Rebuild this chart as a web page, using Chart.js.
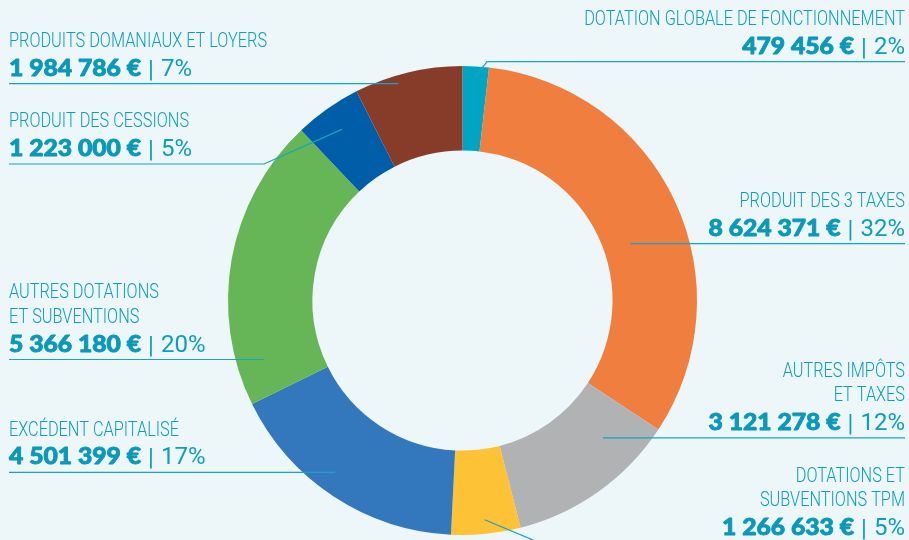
<!DOCTYPE html>
<html lang="fr">
<head>
<meta charset="utf-8">
<script src="https://cdn.jsdelivr.net/npm/chart.js@4.4.1/dist/chart.umd.min.js"></script>
<style>
  html, body { margin: 0; padding: 0; background: #edf6f8; }
  #wrap { width: 909px; height: 540px; position: relative; }
</style>
</head>
<body>
<div id="wrap"><canvas id="recettes"></canvas></div>
<script>
// slices, clockwise from the top
const categories = [
  ['DOTATION GLOBALE DE FONCTIONNEMENT'],
  ['PRODUIT DES 3 TAXES'],
  ['AUTRES IMPÔTS', 'ET TAXES'],
  ['DOTATIONS ET', 'SUBVENTIONS TPM'],
  ['EXCÉDENT CAPITALISÉ'],
  ['AUTRES DOTATIONS', 'ET SUBVENTIONS'],
  ['PRODUIT DES CESSIONS'],
  ['PRODUITS DOMANIAUX ET LOYERS']
];
const amounts = [479456, 8624371, 3121278, 1266633, 4501399, 5366180, 1223000, 1984786];
const colors = ['#00a5c4', '#f07e3f', '#b1b2b3', '#fdc236', '#3377bc', '#66b557', '#005da8', '#873c2a'];

// where each callout sits (text block + leader line)
const callouts = [
  {align: 'right', x: 905, y: 25,    mode: 'elbow', r: 0.955, elbowX: 487},
  {align: 'right', x: 905, y: 207,   mode: 'flat',  r: 0.756},
  {align: 'right', x: 905, y: 376.7, mode: 'flat',  r: 0.838},
  {align: 'right', x: 905, y: 481.7, mode: 'elbow', r: 0.94,  elbowX: 540},
  {align: 'left',  x: 9,   y: 435.7, mode: 'flat',  r: 0.912},
  {align: 'left',  x: 9,   y: 298.3, mode: 'flat',  r: 0.883},
  {align: 'left',  x: 9,   y: 127.3, mode: 'elbow', r: 0.893, elbowX: 264},
  {align: 'left',  x: 9,   y: 47,    mode: 'flat',  r: 0.964}
];

const TEXT = '#0e9dbe';
const NUM_COLOR = '#0b98b9';
const LINE = '#17a3c4';
const NAME_FONT = '300 20px "Roboto", sans-serif';
const NAME_SX = 0.815;
const PCT_FONT = '400 24px "Roboto", sans-serif';
const PCT_SX = 1.0;
const NUM_FONT = '900 23.5px "Lato", sans-serif';
const NUM_SX = 1.05;
const PIPE_GAP = 7;

function euros(v) {
  return String(v).replace(/\B(?=(\d{3})+(?!\d))/g, ' ') + ' €';
}

function textWidth(ctx, t, font, sx) {
  ctx.font = font;
  return ctx.measureText(t).width * sx;
}

// draws text squeezed/stretched horizontally, left edge at x
function drawScaled(ctx, t, x, y, font, sx, stroke) {
  ctx.save();
  ctx.font = font;
  ctx.textAlign = 'left';
  ctx.translate(x, y);
  ctx.scale(sx, 1);
  ctx.fillText(t, 0, 0);
  if (stroke) {
    ctx.strokeStyle = ctx.fillStyle;
    ctx.lineWidth = stroke;
    ctx.lineJoin = 'round';
    ctx.strokeText(t, 0, 0);
  }
  ctx.restore();
}

const calloutPlugin = {
  id: 'callouts',
  afterDraw(chart) {
    const ctx = chart.ctx;
    const arcs = chart.getDatasetMeta(0).data;
    const total = amounts.reduce((a, b) => a + b, 0);

    arcs.forEach((arc, i) => {
      const c = callouts[i];
      const lines = categories[i];
      const lineGap = 24.5;
      const numY = c.y + (lines.length - 1) * lineGap + 28.7;
      const underY = numY + 8;

      ctx.save();
      ctx.fillStyle = TEXT;
      ctx.textBaseline = 'alphabetic';
      lines.forEach((t, k) => {
        const w = textWidth(ctx, t, NAME_FONT, NAME_SX);
        const lx = c.align === 'left' ? c.x : c.x - w;
        drawScaled(ctx, t, lx, c.y + k * lineGap, NAME_FONT, NAME_SX);
      });

      const num = euros(amounts[i]);
      const pct = Math.round(amounts[i] / total * 100) + '%';
      const wNum = textWidth(ctx, num, NUM_FONT, NUM_SX);
      const wPipe = textWidth(ctx, '|', PCT_FONT, 1);
      const wPct = textWidth(ctx, pct, PCT_FONT, PCT_SX);
      const wAll = wNum + PIPE_GAP * 2 + wPipe + wPct;
      const x0 = c.align === 'left' ? c.x : c.x - wAll;
      ctx.fillStyle = NUM_COLOR;
      drawScaled(ctx, num, x0, numY, NUM_FONT, NUM_SX, 0.9);
      ctx.fillStyle = TEXT;
      drawScaled(ctx, '|', x0 + wNum + PIPE_GAP, numY + 1, PCT_FONT, 1);
      drawScaled(ctx, pct, x0 + wNum + PIPE_GAP * 2 + wPipe, numY, PCT_FONT, PCT_SX);

      // leader line
      const {x: cx, y: cy, startAngle, endAngle, outerRadius} = arc.getProps(['x', 'y', 'startAngle', 'endAngle', 'outerRadius'], true);
      const mid = (startAngle + endAngle) / 2;
      const r = outerRadius * c.r;
      let pts;
      if (c.mode === 'flat') {
        const dy = underY - cy;
        const dx = Math.sqrt(Math.max(r * r - dy * dy, 0)) * Math.sign(Math.cos(mid));
        pts = [[cx + dx, underY]];
      } else {
        pts = [[c.elbowX, underY], [cx + r * Math.cos(mid), cy + r * Math.sin(mid)]];
      }
      ctx.strokeStyle = LINE;
      ctx.lineWidth = 1.2;
      ctx.beginPath();
      ctx.moveTo(c.x, underY);
      pts.forEach(p => ctx.lineTo(p[0], p[1]));
      ctx.stroke();
      ctx.restore();
    });
  }
};

new Chart(document.getElementById('recettes'), {
  type: 'doughnut',
  data: {
    labels: categories.map(l => l.join(' ')),
    datasets: [{
      data: amounts,
      backgroundColor: colors,
      borderWidth: 0
    }]
  },
  options: {
    responsive: true,
    maintainAspectRatio: false,
    animation: false,
    cutout: '64%',
    layout: {padding: {top: 66, bottom: 5, left: 16, right: 0}},
    plugins: {
      legend: {display: false},
      tooltip: {enabled: false}
    }
  },
  plugins: [calloutPlugin]
});
</script>
</body>
</html>
